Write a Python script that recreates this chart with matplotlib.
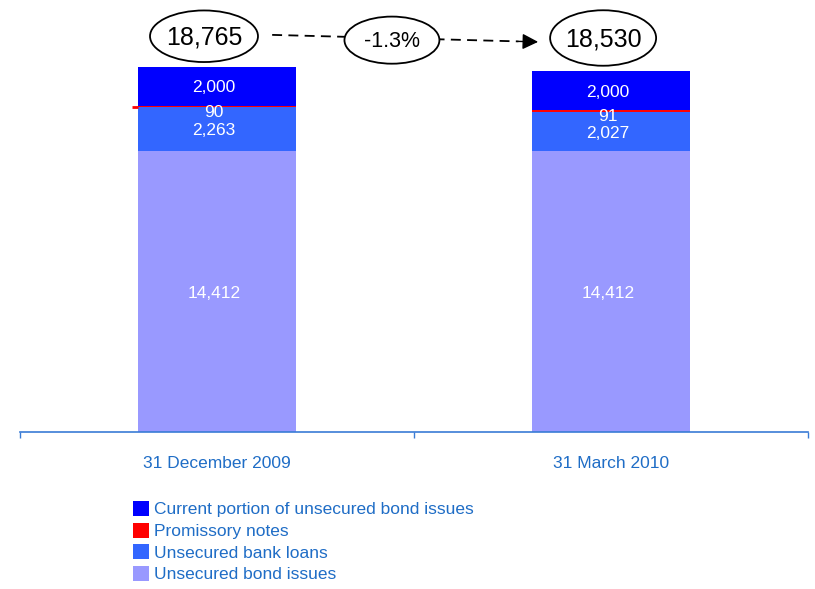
import matplotlib
matplotlib.use("Agg")
import matplotlib.pyplot as plt
from matplotlib.patches import Ellipse, Patch

plt.rcParams["font.family"] = ["Liberation Sans", "DejaVu Sans"]

# Borrowings by type, in millions
periods = ["31 December 2009", "31 March 2010"]
series_names = [
    "Unsecured bond issues",
    "Unsecured bank loans",
    "Promissory notes",
    "Current portion of unsecured bond issues",
]
bond_issues = [14412, 14412]
bank_loans = [2263, 2027]
promissory_notes = [90, 91]
current_bonds = [2000, 2000]

stacks = [bond_issues, bank_loans, promissory_notes, current_bonds]
colors = ["#9999FF", "#3366FF", "#FF0000", "#0000FF"]
label_blue = "#1F6DC6"

fig = plt.figure(figsize=(8.15, 5.89), dpi=100)
ax = fig.add_axes([20 / 815, 157 / 589, 788 / 815, 432 / 589])

x = list(range(len(periods)))
bar_w = 0.40
bottoms = [0] * len(periods)
for values, color, name in zip(stacks, colors, series_names):
    ax.bar(x, values, bar_w, bottom=bottoms, color=color, linewidth=0, zorder=2)
    for i, v in enumerate(values):
        yc = bottoms[i] + v / 2
        small = v < 500
        ax.annotate(f"{v:,}", (x[i], yc), xytext=(-2, -4 if small else -1),
                    textcoords="offset points", ha="center", va="center",
                    color="white", fontsize=12.5, zorder=3)
    bottoms = [b + v for b, v in zip(bottoms, values)]

# stray edge of the promissory notes line on the first bar
red_y = bond_issues[0] + bank_loans[0] + promissory_notes[0] / 2
ax.hlines(red_y, x[0] - bar_w / 2 - 0.016, x[0] - bar_w / 2, color="#FF0000", lw=2, zorder=2)

totals = bottoms
change = (totals[1] - totals[0]) / totals[0] * 100

ax.set_xlim(-0.5, 1.5)
ax.set_ylim(0, 22192)

# totals in ellipses with the change between them
ell_y = [20330, 20240]
ell_x = [x[0] - 0.033, x[1] - 0.02]
ell_size = [(0.274, 2650), (0.269, 2850)]
for i in range(len(periods)):
    ax.add_patch(Ellipse((ell_x[i], ell_y[i]), ell_size[i][0], ell_size[i][1],
                         facecolor="white", edgecolor="black", lw=1.3, zorder=4))
    ax.text(ell_x[i], ell_y[i] - 80, f"{totals[i]:,}", ha="center", va="center",
            fontsize=18, zorder=5)

start = (0.14, 20400)
end = (0.815, 20040)
head_from = (0.765, 20066)
ax.plot([start[0], head_from[0]], [start[1], head_from[1]], color="black",
        lw=1.3, linestyle=(0, (5.5, 3.5)), zorder=3)
ax.annotate("", xy=end, xytext=head_from,
            arrowprops=dict(arrowstyle="-|>", color="black", lw=1.0,
                            mutation_scale=24, shrinkA=0, shrinkB=0), zorder=3)

mid = (0.444, 20130)
ax.add_patch(Ellipse(mid, 0.241, 2420, facecolor="white", edgecolor="black",
                     lw=1.3, zorder=4))
ax.text(mid[0], mid[1] - 60, f"{change:.1f}%", ha="center", va="center",
        fontsize=15.5, zorder=5)

for side in ["top", "left", "right"]:
    ax.spines[side].set_visible(False)
ax.spines["bottom"].set_color("#3A7BD5")
ax.spines["bottom"].set_linewidth(1.2)
ax.set_yticks([])
ax.set_xticks([-0.5, 0.5, 1.5])
ax.set_xticklabels([])
ax.tick_params(axis="x", which="major", direction="out", length=4.5,
               color="#3A7BD5", width=1)
ax.set_xticks(x, minor=True)
ax.set_xticklabels(periods, minor=True)
ax.tick_params(axis="x", which="minor", length=0, pad=17, labelsize=12.5,
               labelcolor=label_blue)
for lbl in ax.get_xticklabels(minor=True):
    lbl.set_x(lbl.get_position()[0])

handles = [Patch(facecolor=c, edgecolor="none") for c in colors][::-1]
fig.legend(handles, series_names[::-1], loc="upper left",
           bbox_to_anchor=(133 / 815, 1 - 501 / 589), frameon=False,
           fontsize=12.5, handlelength=0.95, handleheight=0.95, handletextpad=0.25,
           labelspacing=0.3, borderaxespad=0, borderpad=0, labelcolor=label_blue)

fig.savefig("out.png", dpi=100)
